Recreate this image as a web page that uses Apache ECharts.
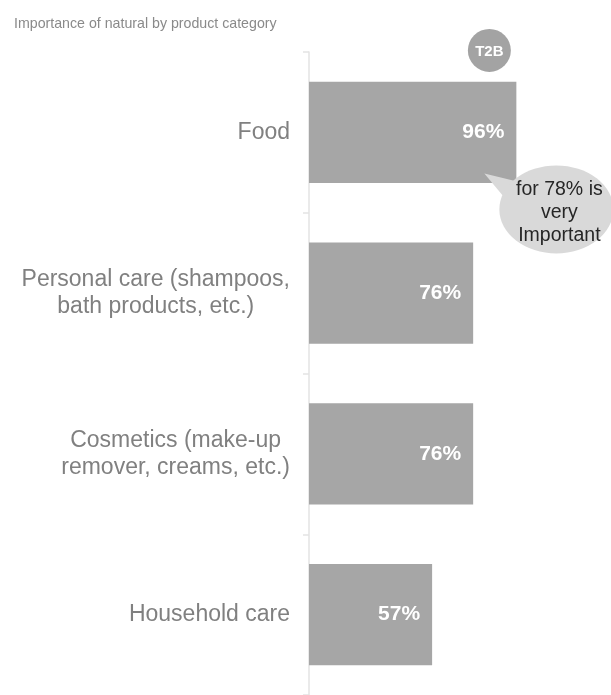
<!DOCTYPE html>
<html>
<head>
<meta charset="utf-8">
<script src="https://cdn.jsdelivr.net/npm/echarts@6/dist/echarts.min.js"></script>
<style>
  html, body { margin: 0; padding: 0; background: #fff; }
  #box { width: 611px; height: 695px; }
</style>
</head>
<body>
<div id="box"></div>
<script>
var categories = ['Food', 'Personal care (shampoos,\nbath products, etc.)', 'Cosmetics (make-up\nremover, creams, etc.)', 'Household care'];
var values = [96, 76, 76, 57];
var badgeText = 'T2B';
var veryImportant = 78;
var bubbleLines = ['for ' + veryImportant + '% is', 'very', 'Important'];

window.onload = function () {
    var myChart = echarts.init(document.getElementById('box'));
    var font = '"Liberation Sans", Arial, sans-serif';

    var option = {
        animation: false,
        title: {
            text: 'Importance of natural by product category',
            left: 9,
            top: 12,
            textStyle: { fontSize: 14.2, fontWeight: 'normal', color: '#8a8a8a', fontFamily: font }
        },
        grid: { left: 309, top: 52, width: 216, bottom: 0, containLabel: false },
        xAxis: {
            type: 'value', min: 0, max: 100, show: false
        },
        yAxis: {
            type: 'category',
            inverse: true,
            data: categories,
            axisLine: { lineStyle: { color: '#e3e3e3', width: 1.5 } },
            axisTick: { show: true, length: 6, lineStyle: { color: '#e3e3e3', width: 1.5 } },
            axisLabel: {
                margin: 19,
                align: 'right',
                formatter: function (v) {
                    // center each line inside the right-aligned block
                    return v.split('\n').map(function (s) { return '{c|' + s + '}'; }).join('\n');
                },
                rich: {
                    c: { align: 'center', fontSize: 23, lineHeight: 27, color: '#808080', fontFamily: font }
                }
            }
        },
        series: [{
            id: 'bars',
            type: 'bar',
            data: values,
            barCategoryGap: '37%',
            itemStyle: { color: '#a6a6a6' },
            label: {
                show: true,
                position: 'insideRight',
                distance: 12,
                formatter: '{c}%',
                color: '#ffffff',
                fontWeight: 'bold',
                fontSize: 21,
                fontFamily: font
            }
        }]
    };
    myChart.setOption(option);

    // annotations hang off the Food bar's end
    var end = myChart.convertToPixel({ seriesIndex: 0 }, [values[0], 0]);
    var ex = end[0], ey = end[1];
    myChart.setOption({
        graphic: [
            {
                type: 'group',
                z: 100,
                children: [
                    { type: 'circle', z: 100, shape: { cx: ex - 27, cy: ey - 82, r: 21.5 }, style: { fill: '#a3a3a3' } },
                    {
                        type: 'text', z: 101, x: ex - 27, y: ey - 81,
                        style: { text: badgeText, fill: '#fff', font: 'bold 15px ' + font, align: 'center', verticalAlign: 'middle' }
                    }
                ]
            },
            {
                type: 'group',
                z: 100,
                children: [
                    {
                        type: 'polygon', z: 100,
                        shape: { points: [[ex - 32, ey + 41], [ex + 5, ey + 50], [ex - 12, ey + 65]] },
                        style: { fill: '#d9d9d9' }
                    },
                    {
                        type: 'circle', z: 100, x: ex + 40, y: ey + 77, scaleX: 57 / 44,
                        shape: { cx: 0, cy: 0, r: 44 }, style: { fill: '#d9d9d9' }
                    },
                    {
                        type: 'text', z: 101, x: ex + 43, y: ey + 80,
                        style: {
                            text: bubbleLines.join('\n'), fill: '#262626', font: '19.5px ' + font,
                            lineHeight: 23, align: 'center', verticalAlign: 'middle'
                        }
                    }
                ]
            }
        ]
    });
};
</script>
</body>
</html>
